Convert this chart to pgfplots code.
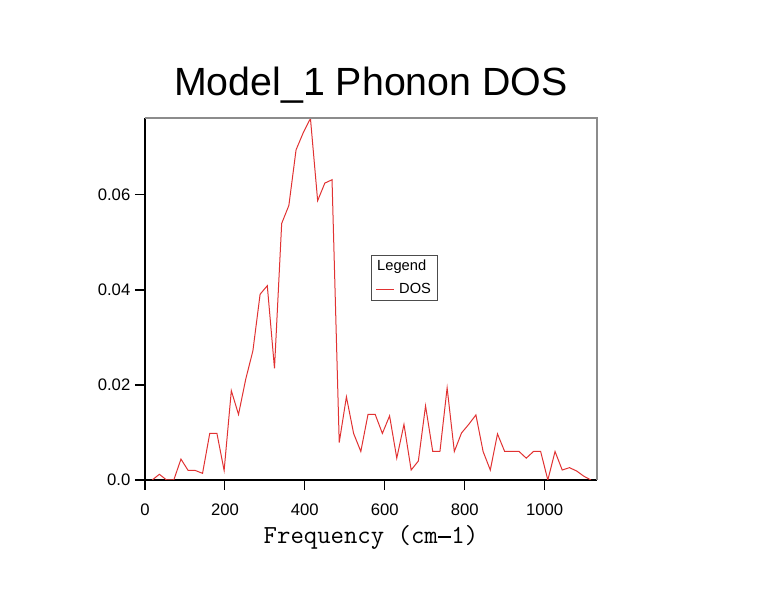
\documentclass[border=0pt]{standalone}
\usepackage{pgfplots}
\pgfplotsset{compat=1.18}
\usepackage{fontspec}
\setmainfont{Liberation Sans}
\setmonofont{Latin Modern Mono}
\definecolor{dosred}{RGB}{225,50,50}
\definecolor{framegray}{RGB}{140,140,140}
\pgfplotsset{legend image code/.code={\draw[#1] (1pt,0pt) -- (14.5pt,0pt);}}
\newcommand{\monodash}{\makebox[0.525em]{\rule[0.24em]{0.5em}{0.05em}}}
\begin{document}
\begin{tikzpicture}
\path[use as bounding box] (-108.75pt,-90pt) rectangle ++(582pt,450pt);
\begin{axis}[
  scale only axis,
  width=339pt, height=271.5pt,
  xmin=0, xmax=1131, ymin=0, ymax=0.0762,
  axis x line*=bottom, axis y line*=left,
  axis line style={-, black, line width=1.1pt},
  tick align=outside,
  major tick length=7.5pt,
  tick style={black, line width=0.8pt},
  xtick={0,200,400,600,800,1000},
  xticklabels={0,200,400,600,800,1000},
  ytick={0,0.02,0.04,0.06},
  yticklabels={0.0,0.02,0.04,0.06},
  scaled y ticks=false,
  /pgf/number format/assume math mode=true,
  ticklabel style={font=\fontsize{12.5pt}{14pt}\selectfont},
  xticklabel style={yshift=-6.5pt},
  title={Model\_1 Phonon DOS},
  title style={font=\fontsize{29.5pt}{34pt}\selectfont, at={(axis description cs:0.5,1.068)}, anchor=center},
  xlabel={Frequency (cm\monodash 1)},
  xlabel style={font=\ttfamily\fontsize{19.5pt}{22pt}\selectfont, at={(axis description cs:0.5,-0.16)}, anchor=center},
  legend style={at={(axis description cs:0.5,0.6215)}, anchor=north west, draw=black!70, line width=0.6pt,
    font=\fontsize{11pt}{13pt}\selectfont, inner xsep=2.5pt, inner ysep=1.5pt, row sep=4pt},
  legend cell align=left,
  after end axis/.code={
    \draw[framegray, line width=1.1pt] (rel axis cs:0,1) -- (rel axis cs:1,1) -- (rel axis cs:1,0);
  },
]
\addlegendimage{empty legend}
\addlegendentry{\hspace{-15pt}Legend}
\addplot[dosred, line width=0.75pt] coordinates {
(18,0) (36,0.0012) (54,0) (72,0) (90,0.0044) (108,0.002) (126,0.002) (144,0.0014)
(162,0.0098) (180,0.0098) (198,0.002) (216,0.0188) (234,0.0138) (252,0.0212)
(270,0.0272) (288,0.0391) (306,0.0409) (324,0.0235) (342,0.054) (360,0.0578)
(378,0.0695) (396,0.0731) (414,0.0761) (432,0.0588) (450,0.0625) (468,0.0632)
(486,0.0079) (504,0.0175) (522,0.0098) (540,0.006) (558,0.0138) (576,0.0138)
(594,0.0098) (612,0.0135) (630,0.0046) (648,0.0117) (666,0.0021) (684,0.004)
(702,0.0156) (720,0.006) (738,0.006) (756,0.0194) (774,0.006) (792,0.0099)
(810,0.0117) (828,0.0137) (846,0.006) (864,0.0021) (882,0.0097) (900,0.006)
(918,0.006) (936,0.006) (954,0.0046) (972,0.006) (990,0.006) (1008,0)
(1026,0.006) (1044,0.0021) (1062,0.0026) (1080,0.0019) (1098,0.0008) (1116,0)
};
\addlegendentry{\hspace{1.5pt}DOS}
\end{axis}
\end{tikzpicture}
\end{document}
